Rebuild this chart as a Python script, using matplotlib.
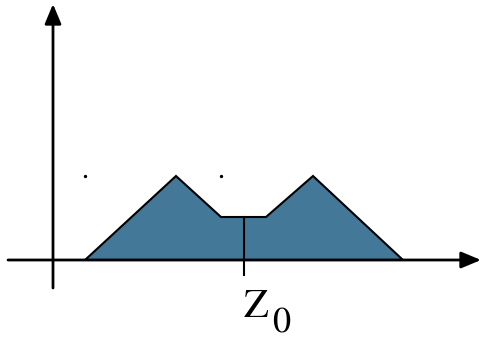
import matplotlib
matplotlib.use("Agg")
import matplotlib.pyplot as plt

plt.rcParams['mathtext.fontset'] = 'stix'

# profile outline (x position, height above the x axis)
shape_x = [85, 176, 221, 266, 313, 403]
shape_y = [0, 84, 43, 43, 84, 0]
z0 = 244
dots_x = [85, 221]
dots_y = [84, 84]

fig = plt.figure(figsize=(4.81, 3.37), dpi=100)
ax = fig.add_axes([0, 0, 1, 1])
ax.set_xlim(0, 481)
ax.set_ylim(-77, 260)
ax.axis('off')

ax.fill(shape_x, shape_y, facecolor='#437899', edgecolor='black', linewidth=1.5, zorder=2)

# axes with arrows
ax.annotate('', xy=(481, 0), xytext=(8, 0),
            arrowprops=dict(arrowstyle='-|>,head_length=1.2,head_width=0.5', color='black', lw=2, shrinkA=0, shrinkB=0), zorder=3)
ax.annotate('', xy=(53, 256), xytext=(53, -28),
            arrowprops=dict(arrowstyle='-|>,head_length=1.2,head_width=0.5', color='black', lw=2, shrinkA=0, shrinkB=0), zorder=3)

# z0 marker
ax.plot([z0, z0], [-15, 43], color='black', lw=1.5, zorder=3)
ax.scatter(dots_x, dots_y, s=2, color='black', zorder=3)
ax.text(z0 - 1, -57, r'$\mathrm{Z}$', fontsize=29, ha='left', va='baseline')
ax.text(z0 + 28, -72, r'$\mathrm{0}$', fontsize=26, ha='left', va='baseline')

fig.savefig('out.png', dpi=100)
